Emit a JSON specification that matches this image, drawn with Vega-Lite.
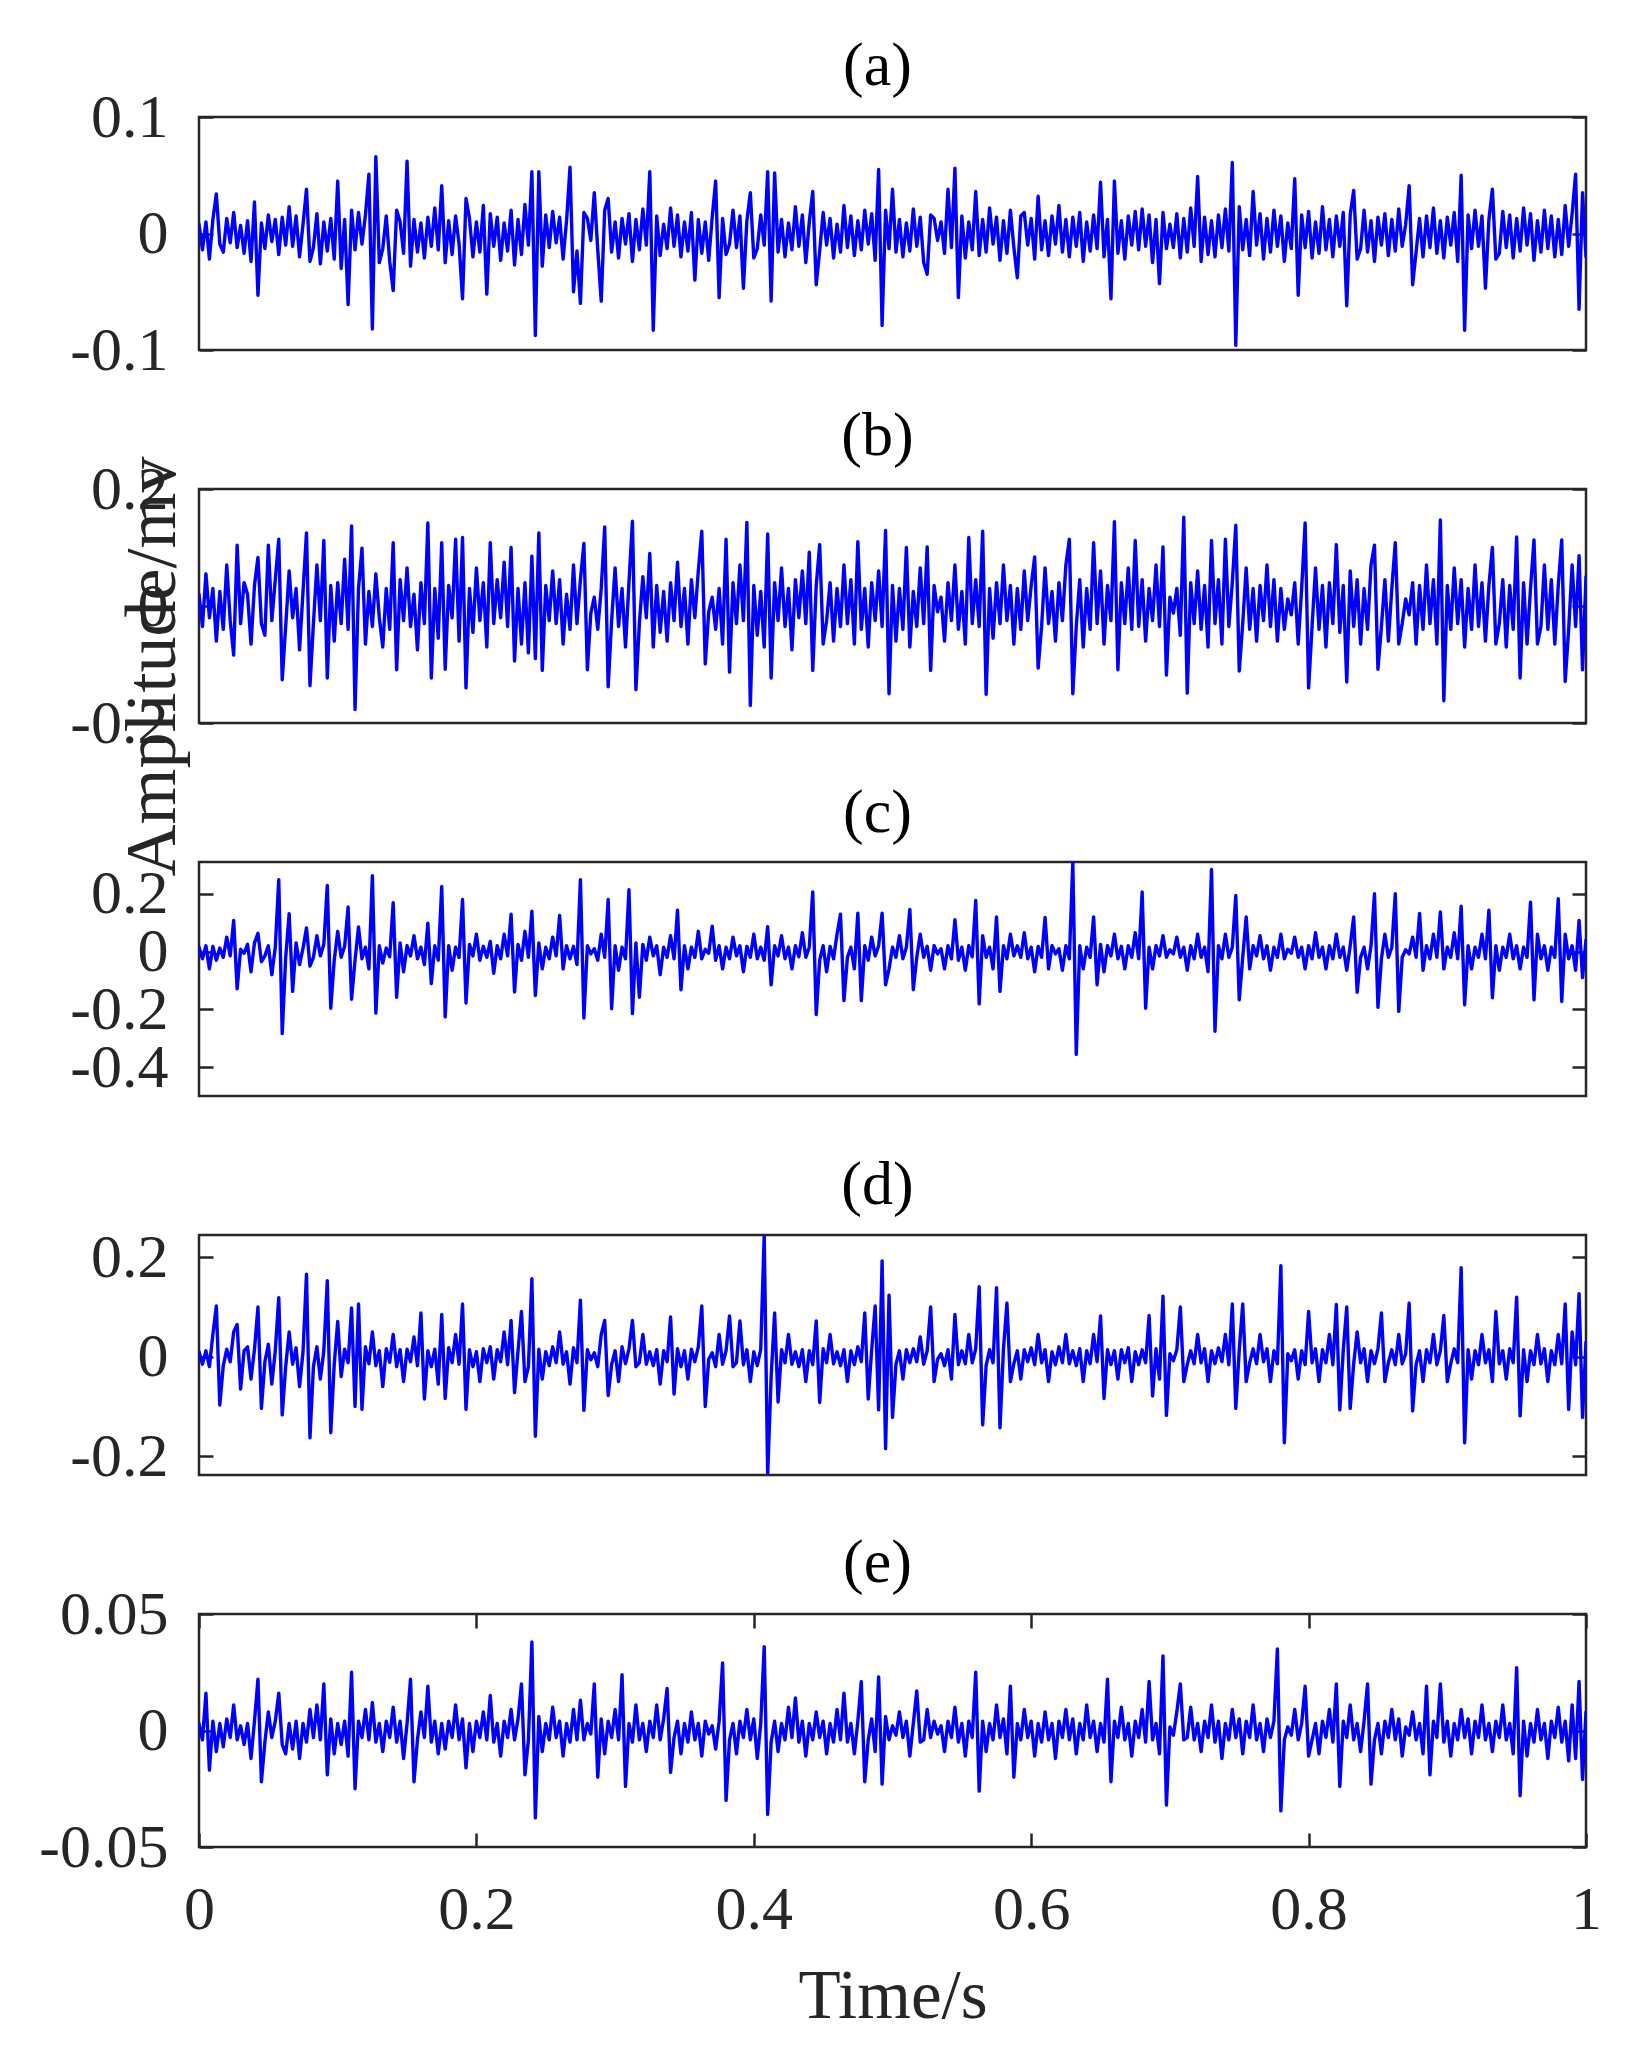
{
"$schema": "https://vega.github.io/schema/vega-lite/v6.json",
"padding": {"left": 37, "top": 33, "right": 20, "bottom": 10},
"background": "white",
"bounds": "flush",
"spacing": 139,
"config": {
  "font": "Liberation Serif",
  "view": {"stroke": "#262626", "strokeWidth": 2.5},
  "line": {"strokeJoin": "round", "strokeCap": "round"},
  "axis": {"grid": false, "domain": false, "ticks": true, "tickSize": -14, "tickWidth": 2.5, "tickColor": "#262626", "labelFont": "Liberation Serif", "labelFontSize": 62, "labelColor": "#262626", "labelOverlap": false, "labelBound": false, "labelFlush": false, "titleFont": "Liberation Serif", "titleFontSize": 69, "titleFontWeight": "normal", "titleColor": "#262626"},
  "axisY": {"labelPadding": 45},
  "axisX": {"labelPadding": 46, "titlePadding": 22},
  "title": {"font": "Liberation Serif", "fontSize": 62, "fontWeight": "normal", "color": "#000000", "anchor": "middle", "baseline": "alphabetic", "dx": -15, "dy": 12}
},
"data": {"values": [
{"t":0,"a":0.008,"b":0.02,"c":0.015,"d":0.01,"e":0.003},
{"t":0.0025,"a":-0.014,"b":-0.035,"c":-0.025,"d":-0.015,"e":-0.004},
{"t":0.005,"a":0.01,"b":0.055,"c":0.02,"d":0.012,"e":0.016},
{"t":0.0075,"a":-0.022,"b":-0.02,"c":-0.06,"d":-0.02,"e":-0.017},
{"t":0.01,"a":0.012,"b":0.03,"c":0.018,"d":0.045,"e":0.004},
{"t":0.0125,"a":0.034,"b":-0.06,"c":-0.03,"d":0.102,"e":-0.009},
{"t":0.015,"a":-0.009,"b":0.025,"c":0.012,"d":-0.097,"e":0.003},
{"t":0.0175,"a":-0.016,"b":-0.04,"c":-0.02,"d":-0.018,"e":-0.007},
{"t":0.02,"a":0.013,"b":0.07,"c":0.05,"d":0.015,"e":0.005},
{"t":0.0225,"a":-0.008,"b":-0.025,"c":-0.015,"d":-0.01,"e":-0.003},
{"t":0.025,"a":0.018,"b":-0.084,"c":0.108,"d":0.05,"e":0.011},
{"t":0.0275,"a":-0.012,"b":0.104,"c":-0.129,"d":0.065,"e":-0.004},
{"t":0.03,"a":0.007,"b":-0.03,"c":0.008,"d":-0.065,"e":0.002},
{"t":0.0325,"a":-0.017,"b":0.04,"c":-0.006,"d":0.012,"e":-0.006},
{"t":0.035,"a":0.011,"b":0.02,"c":0.025,"d":0.02,"e":0.003},
{"t":0.0375,"a":-0.024,"b":-0.065,"c":-0.07,"d":-0.045,"e":-0.012},
{"t":0.04,"a":0.027,"b":0.035,"c":0.03,"d":0.015,"e":0.004},
{"t":0.0425,"a":-0.053,"b":0.083,"c":0.063,"d":0.1,"e":0.022},
{"t":0.045,"a":0.009,"b":-0.03,"c":-0.035,"d":-0.104,"e":-0.022},
{"t":0.0475,"a":-0.013,"b":-0.05,"c":-0.015,"d":-0.01,"e":-0.005},
{"t":0.05,"a":0.016,"b":0.104,"c":0.02,"d":0.025,"e":0.008},
{"t":0.0525,"a":-0.007,"b":-0.025,"c":-0.08,"d":-0.055,"e":-0.003},
{"t":0.055,"a":0.012,"b":0.045,"c":0.015,"d":0.012,"e":0.004},
{"t":0.0575,"a":-0.018,"b":0.114,"c":0.249,"d":0.119,"e":0.016},
{"t":0.06,"a":0.014,"b":-0.126,"c":-0.284,"d":-0.117,"e":-0.006},
{"t":0.0625,"a":-0.01,"b":-0.035,"c":-0.02,"d":-0.02,"e":-0.01},
{"t":0.065,"a":0.023,"b":0.06,"c":0.131,"d":0.05,"e":0.003},
{"t":0.0675,"a":-0.011,"b":-0.02,"c":-0.138,"d":-0.015,"e":-0.008},
{"t":0.07,"a":0.015,"b":0.03,"c":0.03,"d":0.018,"e":0.004},
{"t":0.0725,"a":-0.02,"b":-0.075,"c":-0.045,"d":-0.06,"e":-0.012},
{"t":0.075,"a":0.008,"b":0.025,"c":0.012,"d":0.01,"e":0.003},
{"t":0.0775,"a":0.038,"b":0.125,"c":0.082,"d":0.166,"e":-0.005},
{"t":0.08,"a":-0.024,"b":-0.136,"c":-0.05,"d":-0.163,"e":0.009},
{"t":0.0825,"a":-0.012,"b":-0.03,"c":-0.02,"d":-0.02,"e":-0.003},
{"t":0.085,"a":0.017,"b":0.07,"c":0.055,"d":0.02,"e":0.011},
{"t":0.0875,"a":-0.026,"b":-0.025,"c":-0.015,"d":-0.045,"e":-0.004},
{"t":0.09,"a":0.01,"b":0.112,"c":0.025,"d":0.012,"e":0.02},
{"t":0.0925,"a":-0.015,"b":-0.123,"c":0.229,"d":0.153,"e":-0.019},
{"t":0.095,"a":0.013,"b":0.035,"c":-0.196,"d":-0.153,"e":0.005},
{"t":0.0975,"a":-0.022,"b":-0.06,"c":-0.03,"d":-0.015,"e":-0.01},
{"t":0.1,"a":0.045,"b":0.04,"c":0.07,"d":0.071,"e":0.003},
{"t":0.1025,"a":-0.03,"b":-0.03,"c":-0.02,"d":-0.04,"e":-0.006},
{"t":0.105,"a":0.012,"b":0.08,"c":0.018,"d":0.015,"e":0.004},
{"t":0.1075,"a":-0.061,"b":-0.04,"c":0.154,"d":-0.012,"e":-0.011},
{"t":0.11,"a":0.02,"b":0.137,"c":-0.165,"d":0.098,"e":0.025},
{"t":0.1125,"a":-0.014,"b":-0.177,"c":-0.03,"d":-0.1,"e":-0.025},
{"t":0.115,"a":0.018,"b":0.03,"c":0.085,"d":0.106,"e":0.004},
{"t":0.1175,"a":-0.009,"b":0.099,"c":-0.025,"d":-0.106,"e":-0.003},
{"t":0.12,"a":0.016,"b":-0.065,"c":0.015,"d":0.02,"e":0.009},
{"t":0.1225,"a":0.051,"b":0.025,"c":-0.06,"d":-0.014,"e":-0.004},
{"t":0.125,"a":-0.082,"b":-0.035,"c":0.263,"d":0.05,"e":0.012},
{"t":0.1275,"a":0.066,"b":0.055,"c":-0.213,"d":-0.018,"e":-0.005},
{"t":0.13,"a":-0.025,"b":-0.02,"c":0.02,"d":0.012,"e":0.003},
{"t":0.1325,"a":-0.013,"b":-0.07,"c":-0.04,"d":-0.06,"e":-0.009},
{"t":0.135,"a":0.015,"b":0.03,"c":0.012,"d":0.016,"e":0.004},
{"t":0.1375,"a":-0.024,"b":-0.04,"c":-0.018,"d":-0.011,"e":-0.003},
{"t":0.14,"a":-0.049,"b":0.108,"c":0.169,"d":0.045,"e":0.01},
{"t":0.1425,"a":0.02,"b":-0.109,"c":-0.158,"d":-0.02,"e":-0.005},
{"t":0.145,"a":0.01,"b":0.045,"c":0.03,"d":0.014,"e":0.004},
{"t":0.1475,"a":-0.017,"b":-0.025,"c":-0.07,"d":-0.05,"e":-0.012},
{"t":0.15,"a":0.062,"b":0.065,"c":0.02,"d":0.015,"e":0.003},
{"t":0.1525,"a":-0.028,"b":-0.035,"c":-0.015,"d":-0.01,"e":0.022},
{"t":0.155,"a":0.012,"b":0.02,"c":0.055,"d":0.04,"e":-0.022},
{"t":0.1575,"a":-0.016,"b":-0.075,"c":-0.025,"d":-0.018,"e":-0.004},
{"t":0.16,"a":0.009,"b":0.04,"c":0.015,"d":0.088,"e":0.008},
{"t":0.1625,"a":-0.021,"b":-0.03,"c":-0.045,"d":-0.085,"e":-0.003},
{"t":0.165,"a":0.014,"b":0.142,"c":0.098,"d":0.012,"e":0.019},
{"t":0.1675,"a":-0.011,"b":-0.123,"c":-0.111,"d":-0.02,"e":-0.005},
{"t":0.17,"a":0.022,"b":0.03,"c":0.02,"d":0.015,"e":0.004},
{"t":0.1725,"a":-0.014,"b":-0.055,"c":-0.03,"d":-0.055,"e":-0.01},
{"t":0.175,"a":0.041,"b":0.108,"c":0.225,"d":0.085,"e":0.003},
{"t":0.1775,"a":-0.025,"b":-0.108,"c":-0.226,"d":-0.084,"e":-0.008},
{"t":0.18,"a":0.011,"b":0.035,"c":0.02,"d":0.018,"e":0.004},
{"t":0.1825,"a":-0.018,"b":-0.02,"c":-0.065,"d":-0.012,"e":-0.003},
{"t":0.185,"a":0.015,"b":0.114,"c":0.015,"d":0.045,"e":0.011},
{"t":0.1875,"a":-0.009,"b":-0.06,"c":-0.02,"d":-0.015,"e":-0.004},
{"t":0.19,"a":-0.056,"b":0.117,"c":0.18,"d":0.106,"e":0.005},
{"t":0.1925,"a":0.03,"b":-0.14,"c":-0.178,"d":-0.106,"e":-0.016},
{"t":0.195,"a":0.013,"b":0.03,"c":0.025,"d":0.014,"e":0.003},
{"t":0.1975,"a":-0.02,"b":-0.045,"c":-0.015,"d":-0.02,"e":-0.009},
{"t":0.2,"a":0.01,"b":0.065,"c":0.06,"d":0.01,"e":0.004},
{"t":0.2025,"a":-0.016,"b":-0.025,"c":-0.03,"d":-0.05,"e":-0.003},
{"t":0.205,"a":0.024,"b":0.04,"c":0.018,"d":0.016,"e":0.008},
{"t":0.2075,"a":-0.052,"b":-0.07,"c":-0.02,"d":-0.012,"e":-0.004},
{"t":0.21,"a":0.017,"b":0.108,"c":0.035,"d":0.02,"e":0.015},
{"t":0.2125,"a":-0.011,"b":-0.03,"c":-0.075,"d":-0.045,"e":-0.005},
{"t":0.215,"a":0.014,"b":0.045,"c":0.02,"d":0.014,"e":0.003},
{"t":0.2175,"a":-0.023,"b":-0.02,"c":-0.025,"d":-0.01,"e":-0.011},
{"t":0.22,"a":0.009,"b":0.075,"c":0.06,"d":0.05,"e":0.004},
{"t":0.2225,"a":-0.015,"b":-0.035,"c":-0.015,"d":-0.016,"e":-0.003},
{"t":0.225,"a":0.02,"b":0.1,"c":0.129,"d":0.073,"e":0.009},
{"t":0.2275,"a":-0.027,"b":-0.094,"c":-0.14,"d":-0.072,"e":-0.004},
{"t":0.23,"a":0.012,"b":0.03,"c":0.025,"d":0.012,"e":0.005},
{"t":0.2325,"a":-0.018,"b":-0.065,"c":-0.03,"d":0.091,"e":0.02},
{"t":0.235,"a":0.025,"b":0.04,"c":0.07,"d":-0.05,"e":-0.019},
{"t":0.2375,"a":-0.01,"b":-0.08,"c":-0.02,"d":-0.02,"e":-0.004},
{"t":0.24,"a":0.053,"b":0.085,"c":0.14,"d":0.157,"e":0.038},
{"t":0.2425,"a":-0.0875,"b":-0.09,"c":-0.152,"d":-0.16,"e":-0.0375},
{"t":0.245,"a":0.053,"b":0.125,"c":0.03,"d":0.015,"e":0.006},
{"t":0.2475,"a":-0.028,"b":-0.11,"c":-0.06,"d":-0.045,"e":-0.009},
{"t":0.25,"a":0.016,"b":0.035,"c":0.015,"d":0.01,"e":0.003},
{"t":0.2525,"a":-0.012,"b":-0.025,"c":-0.025,"d":-0.018,"e":-0.004},
{"t":0.255,"a":0.019,"b":0.06,"c":0.05,"d":0.02,"e":0.01},
{"t":0.2575,"a":-0.008,"b":-0.03,"c":-0.015,"d":-0.012,"e":-0.003},
{"t":0.26,"a":0.014,"b":0.045,"c":0.125,"d":0.05,"e":0.004},
{"t":0.2625,"a":-0.022,"b":-0.065,"c":-0.06,"d":-0.015,"e":-0.011},
{"t":0.265,"a":0.011,"b":0.02,"c":0.02,"d":0.01,"e":0.003},
{"t":0.2675,"a":0.057,"b":-0.04,"c":-0.025,"d":-0.055,"e":-0.005},
{"t":0.27,"a":-0.05,"b":0.07,"c":0.018,"d":0.018,"e":0.009},
{"t":0.2725,"a":-0.015,"b":-0.03,"c":-0.045,"d":-0.012,"e":-0.004},
{"t":0.275,"a":-0.06,"b":0.045,"c":0.249,"d":0.114,"e":0.013},
{"t":0.2775,"a":0.018,"b":0.107,"c":-0.23,"d":-0.108,"e":-0.004},
{"t":0.28,"a":0.013,"b":-0.109,"c":0.02,"d":0.014,"e":0.003},
{"t":0.2825,"a":-0.006,"b":-0.012,"c":-0.008,"d":-0.006,"e":-0.0015},
{"t":0.285,"a":0.035,"b":0.015,"c":0.01,"d":0.008,"e":0.02},
{"t":0.2875,"a":-0.014,"b":-0.04,"c":-0.03,"d":-0.02,"e":-0.02},
{"t":0.29,"a":-0.058,"b":0.03,"c":0.06,"d":0.045,"e":0.005},
{"t":0.2925,"a":0.02,"b":0.135,"c":-0.02,"d":0.073,"e":-0.01},
{"t":0.295,"a":0.03,"b":-0.138,"c":0.18,"d":-0.078,"e":0.004},
{"t":0.2975,"a":-0.016,"b":-0.025,"c":-0.198,"d":-0.016,"e":-0.003},
{"t":0.3,"a":0.01,"b":0.065,"c":0.02,"d":0.012,"e":0.009},
{"t":0.3025,"a":-0.021,"b":-0.035,"c":-0.065,"d":-0.05,"e":-0.004},
{"t":0.305,"a":0.013,"b":0.03,"c":0.015,"d":0.02,"e":0.024},
{"t":0.3075,"a":-0.009,"b":-0.07,"c":-0.025,"d":-0.014,"e":-0.024},
{"t":0.31,"a":0.017,"b":0.04,"c":0.214,"d":0.016,"e":0.003},
{"t":0.3125,"a":-0.024,"b":0.145,"c":-0.215,"d":0.073,"e":-0.005},
{"t":0.315,"a":0.012,"b":-0.143,"c":0.03,"d":-0.02,"e":0.011},
{"t":0.3175,"a":-0.014,"b":-0.03,"c":-0.158,"d":-0.012,"e":-0.004},
{"t":0.32,"a":0.021,"b":0.05,"c":0.025,"d":0.045,"e":0.003},
{"t":0.3225,"a":-0.01,"b":-0.02,"c":-0.03,"d":-0.015,"e":-0.009},
{"t":0.325,"a":0.053,"b":0.09,"c":0.05,"d":0.01,"e":0.004},
{"t":0.3275,"a":-0.083,"b":-0.07,"c":-0.015,"d":-0.018,"e":-0.003},
{"t":0.33,"a":0.015,"b":0.035,"c":0.02,"d":0.014,"e":0.011},
{"t":0.3325,"a":-0.019,"b":-0.045,"c":-0.08,"d":-0.055,"e":-0.004},
{"t":0.335,"a":0.008,"b":0.025,"c":0.015,"d":0.012,"e":0.005},
{"t":0.3375,"a":-0.013,"b":-0.06,"c":-0.02,"d":-0.01,"e":0.018},
{"t":0.34,"a":0.022,"b":0.04,"c":0.055,"d":0.08,"e":-0.018},
{"t":0.3425,"a":-0.011,"b":-0.025,"c":-0.025,"d":-0.075,"e":-0.003},
{"t":0.345,"a":0.016,"b":0.075,"c":0.143,"d":0.016,"e":0.004},
{"t":0.3475,"a":-0.02,"b":-0.035,"c":-0.132,"d":-0.02,"e":-0.01},
{"t":0.35,"a":0.01,"b":0.03,"c":0.02,"d":0.012,"e":0.003},
{"t":0.3525,"a":-0.015,"b":-0.065,"c":-0.06,"d":-0.045,"e":-0.005},
{"t":0.355,"a":0.018,"b":0.045,"c":0.015,"d":0.015,"e":0.008},
{"t":0.3575,"a":-0.04,"b":-0.02,"c":-0.02,"d":-0.01,"e":-0.004},
{"t":0.36,"a":0.012,"b":0.06,"c":0.07,"d":0.02,"e":0.003},
{"t":0.3625,"a":-0.017,"b":0.128,"c":-0.025,"d":0.102,"e":-0.011},
{"t":0.365,"a":0.01,"b":-0.099,"c":0.008,"d":-0.1,"e":0.004},
{"t":0.3675,"a":-0.023,"b":-0.01,"c":-0.006,"d":-0.005,"e":-0.0015},
{"t":0.37,"a":0.014,"b":0.015,"c":0.088,"d":0.008,"e":0.002},
{"t":0.3725,"a":0.045,"b":-0.04,"c":-0.03,"d":-0.02,"e":-0.008},
{"t":0.375,"a":-0.055,"b":0.03,"c":0.02,"d":0.045,"e":0.004},
{"t":0.3775,"a":0.013,"b":-0.065,"c":-0.06,"d":-0.015,"e":0.029},
{"t":0.38,"a":-0.018,"b":0.114,"c":0.015,"d":0.012,"e":-0.03},
{"t":0.3825,"a":-0.009,"b":-0.113,"c":-0.025,"d":0.082,"e":-0.004},
{"t":0.385,"a":0.02,"b":0.04,"c":0.05,"d":-0.02,"e":0.003},
{"t":0.3875,"a":-0.012,"b":-0.03,"c":-0.015,"d":-0.012,"e":-0.01},
{"t":0.39,"a":0.015,"b":0.07,"c":0.02,"d":0.072,"e":0.004},
{"t":0.3925,"a":-0.047,"b":-0.025,"c":-0.07,"d":-0.016,"e":-0.003},
{"t":0.395,"a":0.011,"b":0.143,"c":0.018,"d":0.014,"e":0.009},
{"t":0.3975,"a":0.035,"b":-0.17,"c":-0.02,"d":-0.05,"e":-0.004},
{"t":0.4,"a":-0.021,"b":0.035,"c":0.06,"d":0.01,"e":0.005},
{"t":0.4025,"a":-0.013,"b":-0.05,"c":-0.025,"d":-0.018,"e":-0.012},
{"t":0.405,"a":0.016,"b":0.025,"c":0.015,"d":0.015,"e":0.003},
{"t":0.4075,"a":-0.01,"b":-0.07,"c":-0.03,"d":0.245,"e":0.036},
{"t":0.41,"a":0.053,"b":0.123,"c":0.086,"d":-0.238,"e":-0.036},
{"t":0.4125,"a":-0.058,"b":-0.123,"c":-0.115,"d":-0.04,"e":-0.005},
{"t":0.415,"a":0.052,"b":0.04,"c":0.02,"d":0.088,"e":0.004},
{"t":0.4175,"a":-0.016,"b":-0.025,"c":-0.015,"d":-0.091,"e":-0.009},
{"t":0.42,"a":0.012,"b":0.065,"c":0.055,"d":0.014,"e":0.003},
{"t":0.4225,"a":-0.02,"b":-0.035,"c":-0.025,"d":-0.012,"e":-0.004},
{"t":0.425,"a":0.009,"b":0.03,"c":0.015,"d":0.045,"e":0.01},
{"t":0.4275,"a":-0.014,"b":-0.075,"c":-0.06,"d":-0.015,"e":-0.003},
{"t":0.43,"a":0.023,"b":0.045,"c":0.02,"d":0.01,"e":0.014},
{"t":0.4325,"a":-0.011,"b":-0.02,"c":-0.018,"d":-0.02,"e":-0.005},
{"t":0.435,"a":0.016,"b":0.06,"c":0.065,"d":0.014,"e":0.004},
{"t":0.4375,"a":-0.025,"b":-0.03,"c":-0.02,"d":-0.05,"e":-0.011},
{"t":0.44,"a":0.01,"b":0.092,"c":0.015,"d":0.012,"e":0.003},
{"t":0.4425,"a":0.036,"b":-0.11,"c":0.206,"d":-0.016,"e":-0.004},
{"t":0.445,"a":-0.044,"b":0.035,"c":-0.218,"d":0.072,"e":0.008},
{"t":0.4475,"a":-0.015,"b":0.105,"c":-0.03,"d":-0.092,"e":-0.003},
{"t":0.45,"a":0.018,"b":-0.065,"c":0.02,"d":0.016,"e":0.004},
{"t":0.4525,"a":-0.01,"b":-0.025,"c":-0.07,"d":-0.012,"e":-0.01},
{"t":0.455,"a":0.013,"b":0.04,"c":0.018,"d":0.045,"e":0.003},
{"t":0.4575,"a":-0.021,"b":-0.06,"c":-0.025,"d":-0.014,"e":-0.005},
{"t":0.46,"a":0.008,"b":0.03,"c":0.06,"d":0.01,"e":0.009},
{"t":0.4625,"a":-0.016,"b":-0.035,"c":0.129,"d":-0.018,"e":-0.004},
{"t":0.465,"a":0.024,"b":0.07,"c":-0.17,"d":0.014,"e":0.016},
{"t":0.4675,"a":-0.012,"b":-0.03,"c":-0.02,"d":-0.05,"e":-0.005},
{"t":0.47,"a":0.015,"b":0.045,"c":0.015,"d":0.012,"e":0.003},
{"t":0.4725,"a":-0.019,"b":-0.065,"c":-0.06,"d":-0.016,"e":-0.01},
{"t":0.475,"a":0.011,"b":0.11,"c":0.133,"d":0.02,"e":0.004},
{"t":0.4775,"a":-0.014,"b":-0.04,"c":-0.17,"d":-0.01,"e":0.021},
{"t":0.48,"a":0.02,"b":0.03,"c":0.02,"d":0.088,"e":-0.022},
{"t":0.4825,"a":-0.009,"b":-0.07,"c":-0.03,"d":-0.085,"e":-0.004},
{"t":0.485,"a":0.017,"b":0.04,"c":0.05,"d":0.015,"e":0.005},
{"t":0.4875,"a":-0.023,"b":-0.025,"c":-0.015,"d":0.102,"e":-0.009},
{"t":0.49,"a":0.055,"b":0.06,"c":0.02,"d":-0.107,"e":0.023},
{"t":0.4925,"a":-0.079,"b":-0.035,"c":0.133,"d":0.193,"e":-0.023},
{"t":0.495,"a":0.02,"b":0.129,"c":-0.115,"d":-0.185,"e":0.006},
{"t":0.4975,"a":-0.013,"b":-0.15,"c":-0.06,"d":0.124,"e":-0.004},
{"t":0.5,"a":0.038,"b":0.035,"c":0.015,"d":-0.122,"e":0.002},
{"t":0.5025,"a":-0.016,"b":-0.06,"c":-0.02,"d":-0.015,"e":-0.002},
{"t":0.505,"a":0.012,"b":0.03,"c":0.055,"d":0.012,"e":0.008},
{"t":0.5075,"a":-0.02,"b":-0.04,"c":-0.025,"d":-0.045,"e":-0.003},
{"t":0.51,"a":0.009,"b":0.1,"c":0.015,"d":0.014,"e":0.004},
{"t":0.5125,"a":-0.015,"b":-0.07,"c":0.146,"d":-0.012,"e":-0.011},
{"t":0.515,"a":0.021,"b":0.025,"c":-0.132,"d":0.016,"e":0.003},
{"t":0.5175,"a":-0.011,"b":-0.035,"c":-0.02,"d":-0.01,"e":0.017},
{"t":0.52,"a":0.014,"b":0.065,"c":0.06,"d":0.04,"e":-0.005},
{"t":0.5225,"a":-0.025,"b":-0.03,"c":-0.02,"d":-0.015,"e":-0.004},
{"t":0.525,"a":-0.035,"b":0.101,"c":0.018,"d":0.012,"e":0.009},
{"t":0.5275,"a":0.016,"b":-0.11,"c":-0.065,"d":0.1,"e":-0.003},
{"t":0.53,"a":0.013,"b":0.035,"c":0.02,"d":-0.05,"e":0.004},
{"t":0.5325,"a":-0.006,"b":-0.01,"c":-0.008,"d":-0.005,"e":-0.0015},
{"t":0.535,"a":0.01,"b":0.015,"c":0.01,"d":0.006,"e":0.002},
{"t":0.5375,"a":-0.017,"b":-0.06,"c":-0.06,"d":-0.018,"e":-0.009},
{"t":0.54,"a":0.038,"b":0.04,"c":0.02,"d":0.014,"e":0.004},
{"t":0.5425,"a":-0.012,"b":-0.025,"c":-0.025,"d":-0.045,"e":-0.003},
{"t":0.545,"a":0.056,"b":0.07,"c":0.11,"d":0.085,"e":0.01},
{"t":0.5475,"a":-0.055,"b":-0.04,"c":-0.03,"d":-0.016,"e":-0.005},
{"t":0.55,"a":0.015,"b":0.025,"c":0.015,"d":0.012,"e":0.003},
{"t":0.5525,"a":-0.021,"b":-0.065,"c":-0.065,"d":-0.014,"e":-0.011},
{"t":0.555,"a":0.01,"b":0.117,"c":0.02,"d":0.045,"e":0.004},
{"t":0.5575,"a":-0.014,"b":-0.03,"c":-0.018,"d":-0.012,"e":-0.003},
{"t":0.56,"a":0.036,"b":0.045,"c":0.177,"d":0.016,"e":0.025},
{"t":0.5625,"a":-0.019,"b":-0.035,"c":-0.181,"d":0.141,"e":-0.026},
{"t":0.565,"a":0.012,"b":0.128,"c":0.055,"d":-0.137,"e":0.004},
{"t":0.5675,"a":-0.016,"b":-0.151,"c":-0.02,"d":-0.018,"e":-0.009},
{"t":0.57,"a":0.022,"b":0.03,"c":0.015,"d":0.014,"e":0.003},
{"t":0.5725,"a":-0.009,"b":-0.055,"c":-0.06,"d":-0.012,"e":-0.004},
{"t":0.575,"a":0.014,"b":0.04,"c":0.12,"d":0.139,"e":0.011},
{"t":0.5775,"a":-0.023,"b":-0.03,"c":-0.138,"d":-0.143,"e":-0.003},
{"t":0.58,"a":0.011,"b":0.07,"c":0.02,"d":0.016,"e":0.005},
{"t":0.5825,"a":-0.017,"b":-0.025,"c":-0.025,"d":0.108,"e":-0.01},
{"t":0.585,"a":0.02,"b":0.035,"c":0.06,"d":-0.05,"e":0.019},
{"t":0.5875,"a":-0.012,"b":-0.065,"c":-0.015,"d":-0.014,"e":-0.02},
{"t":0.59,"a":-0.038,"b":0.03,"c":0.02,"d":0.012,"e":0.003},
{"t":0.5925,"a":0.015,"b":-0.04,"c":-0.02,"d":-0.045,"e":-0.004},
{"t":0.595,"a":0.018,"b":0.06,"c":0.065,"d":0.014,"e":0.009},
{"t":0.5975,"a":-0.01,"b":-0.025,"c":-0.025,"d":-0.01,"e":-0.003},
{"t":0.6,"a":0.013,"b":0.035,"c":0.015,"d":0.018,"e":0.004},
{"t":0.6025,"a":-0.022,"b":0.084,"c":-0.07,"d":-0.016,"e":-0.011},
{"t":0.605,"a":0.032,"b":-0.106,"c":0.018,"d":0.045,"e":0.003},
{"t":0.6075,"a":-0.014,"b":-0.035,"c":-0.02,"d":-0.012,"e":-0.005},
{"t":0.61,"a":0.011,"b":0.065,"c":0.118,"d":0.014,"e":0.008},
{"t":0.6125,"a":-0.019,"b":-0.03,"c":-0.06,"d":-0.05,"e":-0.004},
{"t":0.615,"a":0.015,"b":0.025,"c":0.02,"d":0.01,"e":0.003},
{"t":0.6175,"a":-0.009,"b":-0.06,"c":-0.008,"d":-0.016,"e":-0.012},
{"t":0.62,"a":0.024,"b":0.04,"c":0.01,"d":0.02,"e":0.004},
{"t":0.6225,"a":-0.016,"b":-0.025,"c":-0.065,"d":-0.012,"e":-0.003},
{"t":0.625,"a":0.012,"b":0.07,"c":0.02,"d":0.045,"e":0.009},
{"t":0.6275,"a":-0.02,"b":0.114,"c":-0.025,"d":-0.014,"e":-0.004},
{"t":0.63,"a":0.014,"b":-0.15,"c":0.31,"d":0.012,"e":0.005},
{"t":0.6325,"a":-0.011,"b":-0.035,"c":-0.356,"d":-0.018,"e":-0.01},
{"t":0.635,"a":0.018,"b":0.045,"c":0.02,"d":0.016,"e":0.003},
{"t":0.6375,"a":-0.024,"b":-0.07,"c":-0.06,"d":-0.05,"e":-0.004},
{"t":0.64,"a":0.01,"b":0.03,"c":0.015,"d":0.012,"e":0.011},
{"t":0.6425,"a":-0.015,"b":-0.04,"c":-0.02,"d":-0.014,"e":-0.003},
{"t":0.645,"a":0.016,"b":0.108,"c":0.12,"d":0.045,"e":0.004},
{"t":0.6475,"a":-0.013,"b":-0.03,"c":-0.115,"d":-0.01,"e":-0.009},
{"t":0.65,"a":0.044,"b":0.06,"c":0.025,"d":0.082,"e":0.003},
{"t":0.6525,"a":-0.02,"b":-0.065,"c":-0.07,"d":-0.084,"e":-0.005},
{"t":0.655,"a":0.012,"b":0.035,"c":0.02,"d":0.014,"e":0.022},
{"t":0.6575,"a":-0.056,"b":-0.025,"c":-0.015,"d":-0.016,"e":-0.022},
{"t":0.66,"a":0.045,"b":0.144,"c":0.06,"d":0.012,"e":0.004},
{"t":0.6625,"a":-0.017,"b":-0.109,"c":-0.025,"d":-0.045,"e":-0.003},
{"t":0.665,"a":0.011,"b":0.04,"c":0.018,"d":0.014,"e":0.01},
{"t":0.6675,"a":-0.022,"b":-0.03,"c":-0.06,"d":-0.012,"e":-0.004},
{"t":0.67,"a":0.015,"b":0.065,"c":0.02,"d":0.018,"e":0.003},
{"t":0.6725,"a":-0.01,"b":-0.04,"c":-0.02,"d":-0.05,"e":-0.011},
{"t":0.675,"a":0.019,"b":0.112,"c":0.065,"d":0.01,"e":0.004},
{"t":0.6775,"a":-0.014,"b":-0.035,"c":-0.025,"d":-0.016,"e":-0.003},
{"t":0.68,"a":0.021,"b":0.045,"c":0.206,"d":0.014,"e":0.009},
{"t":0.6825,"a":-0.011,"b":-0.06,"c":-0.196,"d":-0.012,"e":-0.005},
{"t":0.685,"a":0.016,"b":0.03,"c":0.015,"d":0.083,"e":0.021},
{"t":0.6875,"a":-0.025,"b":-0.025,"c":-0.06,"d":-0.079,"e":-0.004},
{"t":0.69,"a":0.012,"b":0.07,"c":0.02,"d":0.016,"e":0.003},
{"t":0.6925,"a":-0.043,"b":-0.035,"c":-0.015,"d":-0.045,"e":-0.01},
{"t":0.695,"a":0.018,"b":0.101,"c":0.055,"d":0.122,"e":0.032},
{"t":0.6975,"a":-0.013,"b":-0.118,"c":-0.02,"d":-0.118,"e":-0.032},
{"t":0.7,"a":0.008,"b":0.015,"c":0.006,"d":0.006,"e":0.0015},
{"t":0.7025,"a":-0.012,"b":-0.012,"c":-0.008,"d":-0.008,"e":-0.002},
{"t":0.705,"a":0.017,"b":0.03,"c":0.05,"d":0.014,"e":0.008},
{"t":0.7075,"a":-0.021,"b":-0.05,"c":-0.02,"d":0.1,"e":0.02},
{"t":0.71,"a":0.013,"b":0.152,"c":0.015,"d":-0.05,"e":-0.004},
{"t":0.7125,"a":-0.016,"b":-0.149,"c":-0.065,"d":-0.016,"e":-0.003},
{"t":0.715,"a":0.022,"b":0.04,"c":0.02,"d":0.012,"e":0.01},
{"t":0.7175,"a":-0.011,"b":-0.03,"c":-0.025,"d":-0.014,"e":-0.004},
{"t":0.72,"a":0.049,"b":0.06,"c":0.06,"d":0.045,"e":0.003},
{"t":0.7225,"a":-0.024,"b":-0.04,"c":-0.02,"d":-0.012,"e":-0.009},
{"t":0.725,"a":0.014,"b":0.035,"c":0.015,"d":0.016,"e":0.004},
{"t":0.7275,"a":-0.018,"b":-0.07,"c":-0.07,"d":-0.05,"e":-0.003},
{"t":0.73,"a":0.011,"b":0.112,"c":0.284,"d":0.012,"e":0.011},
{"t":0.7325,"a":-0.02,"b":-0.03,"c":-0.276,"d":-0.014,"e":-0.005},
{"t":0.735,"a":0.016,"b":0.045,"c":0.02,"d":0.018,"e":0.004},
{"t":0.7375,"a":-0.012,"b":-0.065,"c":-0.025,"d":-0.01,"e":-0.012},
{"t":0.74,"a":0.021,"b":0.114,"c":0.06,"d":0.045,"e":0.003},
{"t":0.7425,"a":-0.015,"b":-0.035,"c":-0.02,"d":-0.016,"e":-0.004},
{"t":0.745,"a":0.061,"b":0.04,"c":0.015,"d":0.106,"e":0.009},
{"t":0.7475,"a":-0.096,"b":0.138,"c":0.194,"d":-0.104,"e":-0.003},
{"t":0.75,"a":0.023,"b":-0.111,"c":-0.167,"d":0.014,"e":0.005},
{"t":0.7525,"a":-0.014,"b":-0.03,"c":-0.02,"d":0.106,"e":-0.01},
{"t":0.755,"a":0.012,"b":0.065,"c":0.12,"d":-0.05,"e":0.004},
{"t":0.7575,"a":-0.019,"b":-0.04,"c":-0.06,"d":-0.012,"e":-0.003},
{"t":0.76,"a":0.036,"b":0.03,"c":0.02,"d":0.016,"e":0.011},
{"t":0.7625,"a":-0.01,"b":-0.06,"c":-0.015,"d":-0.014,"e":-0.004},
{"t":0.765,"a":0.017,"b":0.035,"c":0.055,"d":0.045,"e":0.003},
{"t":0.7675,"a":-0.022,"b":-0.025,"c":-0.025,"d":-0.01,"e":-0.009},
{"t":0.77,"a":0.013,"b":0.07,"c":0.02,"d":0.016,"e":0.005},
{"t":0.7725,"a":-0.016,"b":-0.035,"c":-0.065,"d":-0.05,"e":-0.003},
{"t":0.775,"a":0.02,"b":0.045,"c":0.015,"d":0.012,"e":0.004},
{"t":0.7775,"a":-0.011,"b":-0.06,"c":-0.02,"d":-0.014,"e":0.035},
{"t":0.78,"a":0.015,"b":0.03,"c":0.06,"d":0.183,"e":-0.0345},
{"t":0.7825,"a":-0.024,"b":-0.04,"c":-0.025,"d":-0.173,"e":-0.004},
{"t":0.785,"a":0.009,"b":0.012,"c":0.008,"d":0.006,"e":0.0015},
{"t":0.7875,"a":-0.013,"b":-0.015,"c":-0.006,"d":-0.008,"e":-0.002},
{"t":0.79,"a":0.047,"b":0.04,"c":0.05,"d":0.014,"e":0.009},
{"t":0.7925,"a":-0.053,"b":-0.065,"c":-0.02,"d":-0.045,"e":-0.004},
{"t":0.795,"a":0.016,"b":0.03,"c":0.015,"d":0.012,"e":0.003},
{"t":0.7975,"a":-0.012,"b":0.142,"c":-0.06,"d":-0.016,"e":0.019},
{"t":0.8,"a":0.019,"b":-0.14,"c":0.02,"d":0.091,"e":-0.011},
{"t":0.8025,"a":-0.021,"b":-0.035,"c":-0.025,"d":-0.012,"e":-0.004},
{"t":0.805,"a":0.01,"b":0.065,"c":0.065,"d":0.016,"e":0.003},
{"t":0.8075,"a":-0.017,"b":-0.04,"c":-0.02,"d":-0.05,"e":-0.01},
{"t":0.81,"a":0.023,"b":0.035,"c":0.015,"d":0.014,"e":0.004},
{"t":0.8125,"a":-0.014,"b":-0.07,"c":-0.06,"d":-0.012,"e":-0.003},
{"t":0.815,"a":0.012,"b":0.04,"c":0.02,"d":0.045,"e":0.009},
{"t":0.8175,"a":-0.02,"b":-0.03,"c":-0.025,"d":-0.016,"e":-0.005},
{"t":0.82,"a":0.015,"b":0.105,"c":0.06,"d":0.105,"e":0.02},
{"t":0.8225,"a":-0.011,"b":-0.045,"c":-0.02,"d":-0.107,"e":-0.024},
{"t":0.825,"a":0.018,"b":0.035,"c":0.015,"d":0.014,"e":0.004},
{"t":0.8275,"a":-0.062,"b":-0.13,"c":-0.065,"d":0.1,"e":-0.003},
{"t":0.83,"a":0.016,"b":0.06,"c":0.02,"d":-0.104,"e":0.011},
{"t":0.8325,"a":0.037,"b":-0.035,"c":0.12,"d":-0.014,"e":-0.004},
{"t":0.835,"a":-0.022,"b":0.045,"c":-0.141,"d":0.05,"e":0.003},
{"t":0.8375,"a":-0.013,"b":-0.065,"c":-0.02,"d":-0.012,"e":-0.009},
{"t":0.84,"a":0.02,"b":0.03,"c":0.015,"d":0.016,"e":0.004},
{"t":0.8425,"a":-0.016,"b":-0.04,"c":-0.06,"d":-0.05,"e":0.02},
{"t":0.845,"a":0.011,"b":0.07,"c":0.02,"d":0.012,"e":-0.023},
{"t":0.8475,"a":-0.024,"b":0.104,"c":0.2,"d":-0.014,"e":-0.004},
{"t":0.85,"a":0.014,"b":-0.108,"c":-0.193,"d":0.016,"e":0.003},
{"t":0.8525,"a":-0.01,"b":-0.035,"c":-0.025,"d":0.088,"e":-0.01},
{"t":0.855,"a":0.017,"b":0.045,"c":0.06,"d":-0.05,"e":0.004},
{"t":0.8575,"a":-0.019,"b":-0.06,"c":-0.02,"d":-0.012,"e":-0.003},
{"t":0.86,"a":0.012,"b":0.03,"c":0.015,"d":0.014,"e":0.009},
{"t":0.8625,"a":-0.015,"b":0.108,"c":0.2,"d":-0.016,"e":-0.004},
{"t":0.865,"a":0.021,"b":-0.065,"c":-0.207,"d":0.045,"e":0.005},
{"t":0.8675,"a":-0.011,"b":-0.03,"c":-0.02,"d":-0.014,"e":-0.011},
{"t":0.87,"a":0.008,"b":0.012,"c":0.006,"d":0.006,"e":0.0015},
{"t":0.8725,"a":0.041,"b":-0.015,"c":-0.008,"d":0.108,"e":-0.002},
{"t":0.875,"a":-0.044,"b":0.04,"c":0.05,"d":-0.109,"e":0.008},
{"t":0.8775,"a":-0.016,"b":-0.065,"c":-0.02,"d":-0.016,"e":-0.004},
{"t":0.88,"a":0.013,"b":0.035,"c":0.132,"d":0.012,"e":0.003},
{"t":0.8825,"a":-0.02,"b":-0.04,"c":-0.065,"d":-0.05,"e":-0.01},
{"t":0.885,"a":0.015,"b":0.07,"c":0.02,"d":0.014,"e":0.019},
{"t":0.8875,"a":-0.012,"b":-0.03,"c":-0.025,"d":-0.012,"e":-0.019},
{"t":0.89,"a":0.022,"b":0.045,"c":0.06,"d":0.045,"e":0.004},
{"t":0.8925,"a":-0.017,"b":-0.065,"c":-0.02,"d":-0.016,"e":-0.003},
{"t":0.895,"a":0.011,"b":0.147,"c":0.137,"d":0.012,"e":0.02},
{"t":0.8975,"a":-0.021,"b":-0.162,"c":-0.06,"d":0.083,"e":-0.005},
{"t":0.9,"a":0.014,"b":0.035,"c":0.015,"d":-0.05,"e":0.004},
{"t":0.9025,"a":-0.01,"b":-0.04,"c":-0.02,"d":-0.014,"e":-0.011},
{"t":0.905,"a":0.018,"b":0.065,"c":0.065,"d":0.016,"e":0.003},
{"t":0.9075,"a":-0.024,"b":-0.03,"c":-0.025,"d":-0.012,"e":-0.004},
{"t":0.91,"a":0.05,"b":0.045,"c":0.157,"d":0.179,"e":0.009},
{"t":0.9125,"a":-0.083,"b":-0.07,"c":-0.184,"d":-0.173,"e":-0.003},
{"t":0.915,"a":0.016,"b":0.03,"c":0.02,"d":0.014,"e":0.005},
{"t":0.9175,"a":-0.013,"b":-0.04,"c":-0.06,"d":-0.045,"e":-0.01},
{"t":0.92,"a":0.02,"b":0.07,"c":0.015,"d":0.012,"e":0.004},
{"t":0.9225,"a":-0.011,"b":-0.035,"c":-0.02,"d":-0.016,"e":-0.003},
{"t":0.925,"a":0.015,"b":0.04,"c":0.06,"d":0.045,"e":0.011},
{"t":0.9275,"a":-0.047,"b":-0.06,"c":-0.025,"d":-0.012,"e":-0.004},
{"t":0.93,"a":0.012,"b":0.035,"c":0.143,"d":0.014,"e":0.003},
{"t":0.9325,"a":0.038,"b":0.1,"c":-0.16,"d":-0.05,"e":-0.009},
{"t":0.935,"a":-0.022,"b":-0.065,"c":0.02,"d":0.091,"e":0.004},
{"t":0.9375,"a":-0.017,"b":-0.03,"c":-0.065,"d":-0.014,"e":-0.003},
{"t":0.94,"a":0.019,"b":0.045,"c":0.015,"d":0.012,"e":0.011},
{"t":0.9425,"a":-0.012,"b":-0.07,"c":-0.02,"d":-0.045,"e":-0.004},
{"t":0.945,"a":0.016,"b":0.035,"c":0.06,"d":0.016,"e":0.003},
{"t":0.9475,"a":-0.021,"b":-0.04,"c":-0.025,"d":-0.012,"e":-0.01},
{"t":0.95,"a":0.013,"b":0.118,"c":0.02,"d":0.12,"e":0.027},
{"t":0.9525,"a":-0.015,"b":-0.123,"c":-0.06,"d":-0.119,"e":-0.028},
{"t":0.955,"a":0.022,"b":0.04,"c":0.015,"d":0.014,"e":0.004},
{"t":0.9575,"a":-0.01,"b":-0.065,"c":-0.02,"d":-0.05,"e":-0.011},
{"t":0.96,"a":0.017,"b":0.03,"c":0.171,"d":0.012,"e":0.003},
{"t":0.9625,"a":-0.023,"b":0.113,"c":-0.167,"d":-0.016,"e":-0.005},
{"t":0.965,"a":0.011,"b":-0.065,"c":0.06,"d":0.045,"e":0.009},
{"t":0.9675,"a":-0.016,"b":-0.035,"c":-0.025,"d":-0.014,"e":-0.004},
{"t":0.97,"a":0.02,"b":0.07,"c":0.02,"d":0.016,"e":0.003},
{"t":0.9725,"a":-0.013,"b":-0.04,"c":-0.065,"d":-0.05,"e":-0.012},
{"t":0.975,"a":0.015,"b":0.045,"c":0.015,"d":0.012,"e":0.004},
{"t":0.9775,"a":-0.02,"b":-0.065,"c":-0.02,"d":-0.016,"e":-0.003},
{"t":0.98,"a":0.012,"b":0.035,"c":0.183,"d":0.045,"e":0.01},
{"t":0.9825,"a":-0.018,"b":0.113,"c":-0.173,"d":-0.014,"e":-0.005},
{"t":0.985,"a":0.024,"b":-0.129,"c":0.06,"d":0.106,"e":0.004},
{"t":0.9875,"a":-0.011,"b":-0.04,"c":-0.025,"d":-0.106,"e":-0.013},
{"t":0.99,"a":0.017,"b":0.07,"c":0.02,"d":0.05,"e":0.011},
{"t":0.9925,"a":0.051,"b":-0.035,"c":-0.065,"d":-0.016,"e":-0.012},
{"t":0.995,"a":-0.065,"b":0.086,"c":0.108,"d":0.127,"e":0.021},
{"t":0.9975,"a":0.035,"b":-0.109,"c":-0.09,"d":-0.122,"e":-0.021},
{"t":1,"a":-0.02,"b":0.05,"c":0.04,"d":0.03,"e":0.008}
]},
"vconcat": [
 {
  "width": 1387, "height": 233,
  "title": {"text": "(a)", "offset": 0},
  "layer": [
   {"mark": {"type": "line", "color": "#0000ff", "strokeWidth": 3.4, "clip": true},
    "encoding": {
     "x": {"field": "t", "type": "quantitative", "scale": {"domain": [0, 1], "nice": false}, "axis": null},
     "y": {"field": "a", "type": "quantitative", "scale": {"domain": [-0.1, 0.1], "nice": false}, "axis": {"values": [-0.1, 0, 0.1], "title": null, "labelExpr": "'' + datum.value"}}
    }},
   {"mark": {"type": "line", "opacity": 0},
    "encoding": {
     "x": {"field": "t", "type": "quantitative", "scale": {"domain": [0, 1], "nice": false}, "axis": null},
     "y": {"field": "a", "type": "quantitative", "scale": {"domain": [-0.1, 0.1], "nice": false}, "axis": {"orient": "right", "values": [-0.1, 0, 0.1], "labels": false, "title": null}}
    }}
  ],
  "resolve": {"axis": {"y": "independent"}}
 },
 {
  "width": 1387, "height": 234,
  "title": {"text": "(b)", "offset": 0},
  "layer": [
   {"mark": {"type": "line", "color": "#0000ff", "strokeWidth": 3.4, "clip": true},
    "encoding": {
     "x": {"field": "t", "type": "quantitative", "scale": {"domain": [0, 1], "nice": false}, "axis": null},
     "y": {"field": "b", "type": "quantitative", "scale": {"domain": [-0.2, 0.2], "nice": false}, "axis": {"values": [-0.2, 0, 0.2], "labelExpr": "'' + datum.value", "title": "Amplitude/mv", "titleFontSize": 72, "titleX": -25, "titleY": 177, "titleAngle": -90, "titleAlign": "center", "titleBaseline": "alphabetic"}}
    }},
   {"mark": {"type": "line", "opacity": 0},
    "encoding": {
     "x": {"field": "t", "type": "quantitative", "scale": {"domain": [0, 1], "nice": false}, "axis": null},
     "y": {"field": "b", "type": "quantitative", "scale": {"domain": [-0.2, 0.2], "nice": false}, "axis": {"orient": "right", "values": [-0.2, 0, 0.2], "labels": false, "title": null}}
    }}
  ],
  "resolve": {"axis": {"y": "independent"}}
 },
 {
  "width": 1387, "height": 234,
  "title": {"text": "(c)", "offset": 29},
  "layer": [
   {"mark": {"type": "line", "color": "#0000ff", "strokeWidth": 3.4, "clip": true},
    "encoding": {
     "x": {"field": "t", "type": "quantitative", "scale": {"domain": [0, 1], "nice": false}, "axis": null},
     "y": {"field": "c", "type": "quantitative", "scale": {"domain": [-0.5, 0.31], "nice": false}, "axis": {"values": [-0.4, -0.2, 0, 0.2], "title": null, "labelExpr": "'' + datum.value"}}
    }},
   {"mark": {"type": "line", "opacity": 0},
    "encoding": {
     "x": {"field": "t", "type": "quantitative", "scale": {"domain": [0, 1], "nice": false}, "axis": null},
     "y": {"field": "c", "type": "quantitative", "scale": {"domain": [-0.5, 0.31], "nice": false}, "axis": {"orient": "right", "values": [-0.4, -0.2, 0, 0.2], "labels": false, "title": null}}
    }}
  ],
  "resolve": {"axis": {"y": "independent"}}
 },
 {
  "width": 1387, "height": 240,
  "title": {"text": "(d)", "offset": 21},
  "layer": [
   {"mark": {"type": "line", "color": "#0000ff", "strokeWidth": 3.4, "clip": true},
    "encoding": {
     "x": {"field": "t", "type": "quantitative", "scale": {"domain": [0, 1], "nice": false}, "axis": null},
     "y": {"field": "d", "type": "quantitative", "scale": {"domain": [-0.238, 0.245], "nice": false}, "axis": {"values": [-0.2, 0, 0.2], "title": null, "labelExpr": "'' + datum.value"}}
    }},
   {"mark": {"type": "line", "opacity": 0},
    "encoding": {
     "x": {"field": "t", "type": "quantitative", "scale": {"domain": [0, 1], "nice": false}, "axis": null},
     "y": {"field": "d", "type": "quantitative", "scale": {"domain": [-0.238, 0.245], "nice": false}, "axis": {"orient": "right", "values": [-0.2, 0, 0.2], "labels": false, "title": null}}
    }}
  ],
  "resolve": {"axis": {"y": "independent"}}
 },
 {
  "width": 1387, "height": 233,
  "title": {"text": "(e)", "offset": 0},
  "layer": [
   {"mark": {"type": "line", "color": "#0000ff", "strokeWidth": 3.4, "clip": true},
    "encoding": {
     "x": {"field": "t", "type": "quantitative", "scale": {"domain": [0, 1], "nice": false}, "axis": {"values": [0, 0.2, 0.4, 0.6, 0.8, 1], "title": "Time/s", "labelExpr": "'' + datum.value"}},
     "y": {"field": "e", "type": "quantitative", "scale": {"domain": [-0.05, 0.05], "nice": false}, "axis": {"values": [-0.05, 0, 0.05], "title": null, "labelExpr": "'' + datum.value"}}
    }},
   {"mark": {"type": "line", "opacity": 0},
    "encoding": {
     "x": {"field": "t", "type": "quantitative", "scale": {"domain": [0, 1], "nice": false}, "axis": {"orient": "top", "values": [0, 0.2, 0.4, 0.6, 0.8, 1], "labels": false, "title": null}},
     "y": {"field": "e", "type": "quantitative", "scale": {"domain": [-0.05, 0.05], "nice": false}, "axis": {"orient": "right", "values": [-0.05, 0, 0.05], "labels": false, "title": null}}
    }}
  ],
  "resolve": {"axis": {"x": "independent", "y": "independent"}}
 }
]
}
